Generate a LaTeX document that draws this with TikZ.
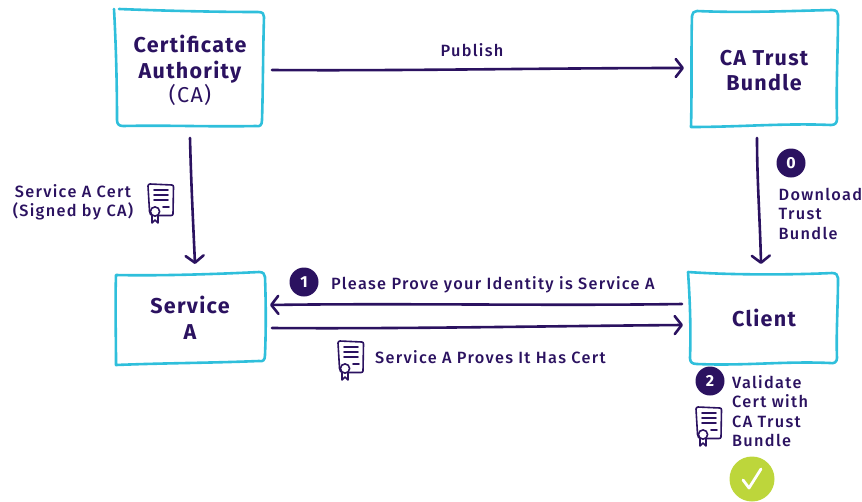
\documentclass[tikz,border=0pt]{standalone}
\usepackage{fontspec}
\setmainfont{Fira Sans}[LetterSpace=6]
\newfontfamily\medfont{Fira Sans Medium}[LetterSpace=8]
\usetikzlibrary{arrows.meta}
\definecolor{ink}{HTML}{2B1260}
\definecolor{sky}{HTML}{2FBFDB}
\definecolor{lime}{HTML}{BDD63B}
\tikzset{
  x=1pt,y=-1pt,
  sketch/.style={draw=sky,line width=2.6pt,line cap=round,line join=round},
  boxlabel/.style={text=ink,font=\fontsize{21.5}{25.5}\selectfont\bfseries,align=center,inner sep=0pt},
  plain/.style={text=ink,font=\fontsize{16.3}{19.3}\selectfont\medfont,align=left,inner sep=0pt},
  flow/.style={draw=ink,line width=2.6pt,line cap=round,-{Straight Barb[length=7pt,width=18pt,line width=2.6pt,round]}},
  badge/.style={circle,fill=ink,text=white,minimum size=29pt,inner sep=0pt,font=\fontsize{16}{16}\selectfont\bfseries},
  okmark/.style={circle,fill=lime,minimum size=45pt,inner sep=0pt},
  certicon/.pic={
    \begin{scope}[draw=ink,line width=1.6pt,line cap=round,line join=round]
      \draw (-9.5,9) -- (-11,-16) .. controls (-11,-17) and (-10,-18) .. (-9,-18) -- (13,-17) .. controls (14,-17) and (14.5,-16) .. (14.5,-15) -- (14,12) .. controls (14,13) and (13,13.5) .. (12,13.5) -- (-2,13.5);
      \draw (-9.5,9) .. controls (-9.5,12) and (-8,13.5) .. (-6,13.5);
      \draw (-5,-12) -- (9,-12) (-5,-7) -- (9,-7) (-5,-2) -- (9,-2) (4,5) -- (10,5);
      \draw[fill=white] (-4,9.5) circle (4.6);
      \draw (-7,14) -- (-7,21) -- (-4,18) -- (-1,21) -- (-1,14);
    \end{scope}
  }
}
\begin{document}
\begin{tikzpicture}
\useasboundingbox (0,0) rectangle (862,501);
% outlines
\draw[sketch] (119,9) .. controls (170,11) and (220,12) .. (258,12) .. controls (263,12) and (264,14) .. (264,17) .. controls (263,50) and (263,90) .. (262,120) .. controls (262,125) and (260,127) .. (256,126) .. controls (210,127) and (170,125) .. (123,126) .. controls (119,126) and (117,124) .. (117,120) .. controls (117,85) and (116,45) .. (114,9);
\draw[sketch] (692,16) .. controls (692,13) and (694,11) .. (697,11) .. controls (740,13) and (790,11) .. (832,10) .. controls (836,10) and (838,12) .. (838,15) .. controls (838,50) and (836,85) .. (837,119) .. controls (837,123) and (835,125) .. (831,125) .. controls (785,123) and (740,127) .. (691,127) .. controls (692,90) and (691,50) .. (692,16);
\draw[sketch] (116,275) .. controls (160,276) and (220,274) .. (259,272) .. controls (263,272) and (265,274) .. (265,277) .. controls (266,305) and (266,330) .. (265,355) .. controls (265,360) and (263,362) .. (259,361) .. controls (210,363) and (165,363) .. (116,365) .. controls (116,335) and (115,305) .. (116,275);
\draw[sketch] (688,272) .. controls (730,275) and (790,275) .. (832,273) .. controls (836,273) and (838,275) .. (838,278) .. controls (838,305) and (836,335) .. (837,358) .. controls (837,362) and (834,364) .. (830,363) .. controls (785,361) and (745,366) .. (697,364) .. controls (692,364) and (690,362) .. (690,358) .. controls (691,330) and (690,300) .. (688,272);
% boxes
\node[boxlabel] (ca) at (190,70.5) {Certificate\\Authority\\[-1pt]{\mdseries (CA)}};
\node[boxlabel] (bundle) at (764,70.5) {CA Trust\\Bundle};
\node[boxlabel] (svc) at (190,318) {Service\\A};
\node[boxlabel] (client) at (764,318) {Client};
% connector ends
\coordinate (caE) at (272,70);
\coordinate (bundleW) at (684,68);
\coordinate (caS) at (190,138);
\coordinate (svcN) at (195,264);
\coordinate (bundleS) at (757,138);
\coordinate (clientN) at (761,264);
\coordinate (clientWa) at (682,304);
\coordinate (svcEa) at (270,305);
\coordinate (svcEb) at (272,328);
\coordinate (clientWb) at (683,325);
\draw[flow] (caE) .. controls (400,71) and (550,68) .. (bundleW);
\draw[flow] (caS) .. controls (191,180) and (193,220) .. (svcN);
\draw[flow] (bundleS) .. controls (757,180) and (760,220) .. (clientN);
\draw[flow] (clientWa) .. controls (550,306) and (400,303) .. (svcEa);
\draw[flow] (svcEb) .. controls (400,329) and (550,326) .. (clientWb);
% labels
\node[plain] (publish) at (472,50) {Publish};
\node[plain,align=center] (certlabel) at (73,202) {Service A Cert\\(Signed by CA)};
\pic at (159,202) {certicon};
\node[badge] (b0) at (791,163) {0};
\node[plain,anchor=north west] (dl) at (778.5,188) {Download\\Trust\\Bundle};
\node[badge] (b1) at (304,282) {1};
\node[plain,anchor=west] (please) at (331,285) {Please Prove your Identity is Service A};
\pic at (349,359) {certicon};
\node[plain,anchor=west] (proves) at (375,357.5) {Service A Proves It Has Cert};
\node[badge] (b2) at (710,381) {2};
\node[plain,anchor=north west] (validate) at (732,375.5) {Validate\\Cert with\\CA Trust\\Bundle};
\pic at (707,425) {certicon};
\node[okmark] (ok) at (752,479) {};
\draw[white,line width=2.8pt,line cap=round,line join=round] (ok.center) ++(-9,1) -- ++(6,8) -- ++(12,-19);
\end{tikzpicture}
\end{document}
